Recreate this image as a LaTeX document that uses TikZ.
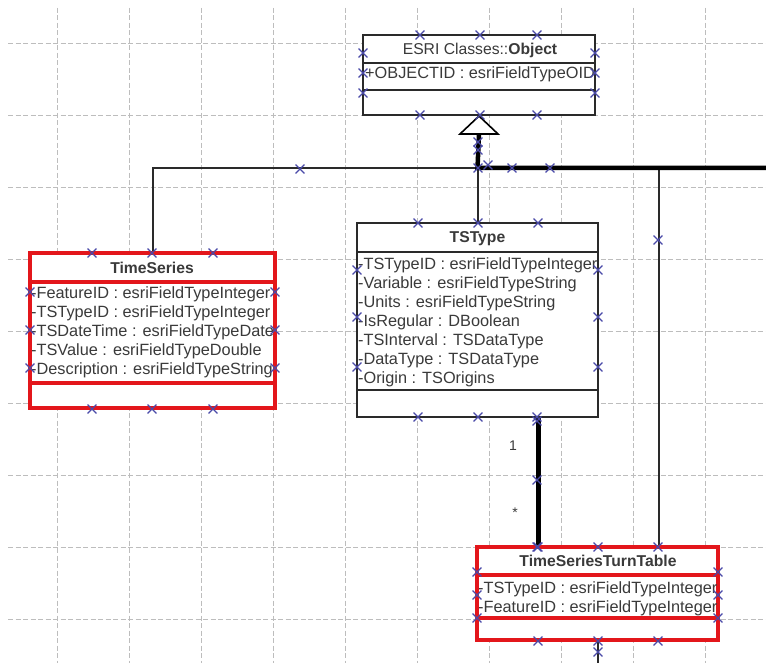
\documentclass[tikz,border=0pt]{standalone}
\usepackage{fontspec}
\setmainfont{Liberation Sans}
\usetikzlibrary{shapes.misc,calc}
\definecolor{txtgray}{HTML}{3A3A3A}
\definecolor{umlred}{HTML}{E3161B}
\definecolor{handleblue}{HTML}{4A4AA8}
\definecolor{gridgray}{HTML}{BDBDBD}
\definecolor{linegray}{HTML}{2A2A2A}
\newcommand\attrfont{\fontsize{16.3}{19}\selectfont}
\newcommand\titlefont{\fontsize{15.7}{18}\selectfont\bfseries}
\newcommand\lblfont{\fontsize{14}{16}\selectfont}

\begin{document}
\begin{tikzpicture}[x=1pt,y=-1pt,
  gridline/.style={gridgray, line width=0.9pt, dash pattern=on 5pt off 2.5pt},
  plainbox/.style={rectangle, draw=linegray, fill=white, line width=2pt, inner sep=0},
  redbox/.style={rectangle, draw=umlred, fill=white, line width=4pt, inner sep=0},
  plainsep/.style={linegray, line width=2pt},
  redsep/.style={umlred, line width=4pt},
  attr/.style={anchor=base west, inner sep=0, font=\attrfont, text=txtgray},
  ctitle/.style={anchor=base, inner sep=0, font=\titlefont, text=txtgray},
  thinlink/.style={linegray, line width=2pt},
  boldlink/.style={black, line width=4.5pt, line join=miter},
  generalization/.style={draw=black, fill=white, line width=1.6pt, line join=miter},
  handle/.style={cross out, draw=handleblue, line width=1.3pt, minimum size=7.5pt, inner sep=0},
  lbl/.style={inner sep=0, font=\lblfont, text=txtgray}]

\useasboundingbox (0,0) rectangle (766,663);
\fill[white] (0,0) rectangle (766,663);

% background grid
\foreach \gx in {57,129,...,705} \draw[gridline] (\gx,8) -- (\gx,663);
\foreach \gy in {43,115,...,619} \draw[gridline] (8,\gy) -- (766,\gy);

% ---------- classes ----------
% ESRI Classes::Object
\node[plainbox, minimum width=232pt, minimum height=80pt] (obj) at (479,75) {};
\draw[plainsep] (obj.west |- 0,63) -- (obj.east |- 0,63);
\draw[plainsep] (obj.west |- 0,90) -- (obj.east |- 0,90);
\node[ctitle] (objtitle) at (480,54.5) {\mdseries ESRI Classes::\textbf{Object}};
\begin{scope}
  \clip (364,64) rectangle (594,89);
  \node[attr] (objattr) at (365,78.8) {+OBJECTID : esriFieldTypeOID};
\end{scope}

% TimeSeries
\node[redbox, minimum width=245pt, minimum height=155pt] (ts) at (152.5,330.5) {};
\draw[redsep] (ts.west |- 0,282) -- (ts.east |- 0,282);
\draw[redsep] (ts.west |- 0,383) -- (ts.east |- 0,383);
\node[ctitle] (tstitle) at (152,273.5) {TimeSeries};
\begin{scope}
  \clip (32,284) rectangle (273,381);
  \node[attr] (ts1) at (31,298.8) {-FeatureID : esriFieldTypeInteger};
  \node[attr] (ts2) at (31,317.8) {-TSTypeID : esriFieldTypeInteger};
  \node[attr] (ts3) at (31,336.8) {-TSDateTime : esriFieldTypeDate};
  \node[attr] (ts4) at (31,355.8) {-TSValue : esriFieldTypeDouble};
  \node[attr] (ts5) at (31,374.8) {-Description : esriFieldTypeString};
\end{scope}

% TSType
\node[plainbox, minimum width=241pt, minimum height=194pt] (tstype) at (477.5,320) {};
\draw[plainsep] (tstype.west |- 0,252) -- (tstype.east |- 0,252);
\draw[plainsep] (tstype.west |- 0,390) -- (tstype.east |- 0,390);
\node[ctitle] (tttitle) at (477.5,242.5) {TSType};
\begin{scope}
  \clip (358,253) rectangle (597,389);
  \node[attr] (ty1) at (358,269.8) {-TSTypeID : esriFieldTypeInteger};
  \node[attr] (ty2) at (358,288.8) {-Variable : esriFieldTypeString};
  \node[attr] (ty3) at (358,307.8) {-Units : esriFieldTypeString};
  \node[attr] (ty4) at (358,326.8) {-IsRegular : DBoolean};
  \node[attr] (ty5) at (358,345.8) {-TSInterval : TSDataType};
  \node[attr] (ty6) at (358,364.8) {-DataType : TSDataType};
  \node[attr] (ty7) at (358,383.8) {-Origin : TSOrigins};
\end{scope}

% TimeSeriesTurnTable
\node[redbox, minimum width=241pt, minimum height=93pt] (turn) at (597.5,593.5) {};
\draw[redsep] (turn.west |- 0,575) -- (turn.east |- 0,575);
\draw[redsep] (turn.west |- 0,618) -- (turn.east |- 0,618);
\node[ctitle] (turntitle) at (598,566.5) {TimeSeriesTurnTable};
\begin{scope}
  \clip (479,577) rectangle (716,616);
  \node[attr] (tn1) at (478,593.8) {-TSTypeID : esriFieldTypeInteger};
  \node[attr] (tn2) at (478,612.8) {-FeatureID : esriFieldTypeInteger};
\end{scope}

% ---------- connectors ----------
\coordinate (tribase) at ($(obj.south)+(0,18)$);
\coordinate (j) at (tstype.north |- 0,168);
\coordinate (eastend) at (766,168);
\coordinate (ttr) at ($(turn.north)!0.5!(turn.north east)$);
\coordinate (tyb) at ($(tstype.south)!0.5!(tstype.south east)$);
\coordinate (bottomend) at (turn.south |- 0,663);

\draw[thinlink] (ts.north) |- (j);
\draw[thinlink] (j) -- (tstype.north);
\draw[thinlink] (ttr) -- (ttr |- eastend);
\draw[boldlink] (tribase) -- (j) -- (eastend);
\draw[boldlink] (tyb) -- (tyb |- turn.north);
\draw[thinlink] (turn.south) -- (bottomend);

% generalization arrowhead
\draw[generalization] (obj.south) -- ++(-19,18) -- ++(38,0) -- cycle;

% multiplicities
\node[lbl] (one) at (513,446) {1};
\node[lbl] (many) at (515,513) {*};

% selection handles
\foreach \p [count=\i] in {
  (420,35),(480,35),(537,35),(363,53),(363,73),(363,93),(595,53),(595,73),(595,93),
  (420,115),(480,115),(537,115),
  (478,142),(478,150),(478,168),(488,165),(512,168),(550,168),(300,169),
  (92,253),(152,253),(213,253),(30,292),(30,330),(30,368),(275,292),(275,330),(275,368),
  (92,409),(152,409),(213,409),
  (418,223),(478,223),(538,223),(357,270),(357,317),(357,367),(598,270),(598,317),(598,367),
  (418,417),(478,417),(537,417),(537,421),
  (537,480),(537,547),(658,240),
  (538,547),(598,547),(658,547),(477,572),(477,595),(477,618),(718,572),(718,595),(718,618),
  (538,641),(598,641),(658,641),(598,652)}
  \node[handle] (h\i) at \p {};

\end{tikzpicture}
\end{document}
